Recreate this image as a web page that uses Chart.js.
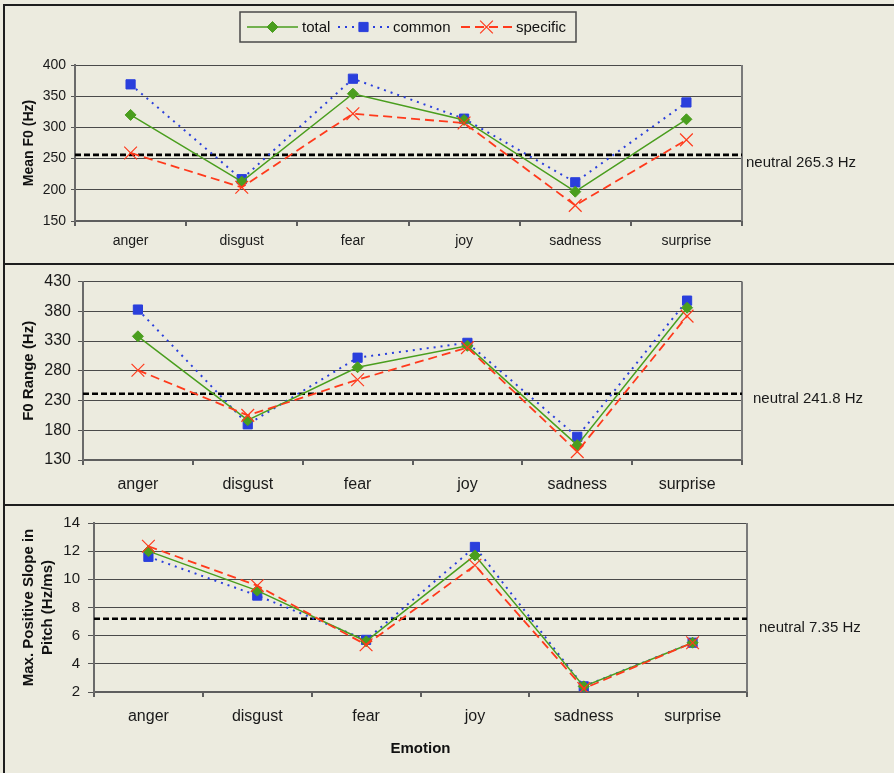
<!DOCTYPE html>
<html>
<head>
<meta charset="utf-8">
<script src="https://cdn.jsdelivr.net/npm/chart.js@4.4.1/dist/chart.umd.min.js"></script>
<style>
html, body { margin: 0; padding: 0; background: #ecebdf; }
#fig { position: relative; width: 894px; height: 773px; background: #ecebdf; overflow: hidden; }
.rule { position: absolute; background: #1e1e1e; }
canvas { position: absolute; }
</style>
</head>
<body>
<div id="fig">
  <div class="rule" style="left:3px;top:4px;width:891px;height:2px"></div>
  <div class="rule" style="left:3px;top:4px;width:2px;height:769px"></div>
  <div class="rule" style="left:3px;top:263px;width:891px;height:2px"></div>
  <div class="rule" style="left:3px;top:504px;width:891px;height:2px"></div>
  <canvas id="meanChart" style="left:5px;top:6px" width="889" height="257"></canvas>
  <canvas id="rangeChart" style="left:5px;top:265px" width="889" height="239"></canvas>
  <canvas id="slopeChart" style="left:5px;top:506px" width="889" height="267"></canvas>
</div>
<script>
const emotions = ['anger', 'disgust', 'fear', 'joy', 'sadness', 'surprise'];

// Mean F0 (Hz)
const meanTotal = [320, 213, 354, 312, 197, 313];
const meanCommon = [369, 217, 378, 314, 212, 340];
const meanSpecific = [259, 204, 322, 307, 175, 280];
const meanTicks = [150, 200, 250, 300, 350, 400];

// F0 Range (Hz)
const rangeTotal = [338, 197, 286, 322, 155, 386];
const rangeCommon = [383, 190, 302, 327, 169, 398];
const rangeSpecific = [281, 205, 265, 319, 144, 372];
const rangeTicks = [130, 180, 230, 280, 330, 380, 430];

// Max. positive slope in pitch (Hz/ms)
const slopeTotal = [12.0, 9.2, 5.6, 11.7, 2.4, 5.5];
const slopeCommon = [11.6, 8.85, 5.7, 12.3, 2.4, 5.5];
const slopeSpecific = [12.35, 9.55, 5.35, 11.0, 2.25, 5.5];
const slopeTicks = [2, 4, 6, 8, 10, 12, 14];

// neutral reference lines (drawn value, label)
const neutralValues = [256, 241.5, 7.2];
const neutralLabels = ['neutral 265.3 Hz', 'neutral 241.8 Hz', 'neutral 7.35 Hz'];

const FONT = '"Liberation Sans", Arial, sans-serif';
Chart.defaults.font.family = FONT;
Chart.defaults.color = '#1a1a1a';

const GREEN = '#4a9e1e';
const BLUE = '#2a3fdc';
const RED = '#ff3a1c';

function series(total, common, specific) {
  return [
    { label: 'total', data: total, borderColor: GREEN, backgroundColor: GREEN, borderWidth: 1.5,
      pointStyle: 'rectRot', pointRadius: 5.5, pointBorderWidth: 1, pointBorderColor: GREEN, order: 1 },
    { label: 'common', data: common, borderColor: BLUE, backgroundColor: BLUE, borderWidth: 2, borderDash: [2, 5],
      pointStyle: 'rect', pointRadius: 6.5, pointBorderWidth: 1, pointBorderColor: BLUE, order: 2 },
    { label: 'specific', data: specific, borderColor: RED, backgroundColor: RED, borderWidth: 1.8, borderDash: [9, 5],
      pointStyle: 'crossRot', pointRadius: 9, pointBorderWidth: 1.2, pointBorderColor: RED, order: 0 }
  ];
}

function drawMarker(ctx, style, r, x, y) {
  if (Chart.helpers && Chart.helpers.drawPoint) {
    Chart.helpers.drawPoint(ctx, { pointStyle: style, radius: r, borderWidth: 1, rotation: 0 }, x, y);
    return;
  }
  ctx.beginPath();
  ctx.arc(x, y, r, 0, Math.PI * 2);
  ctx.fill();
}

const neutralPlugin = {
  id: 'neutral',
  beforeDatasetsDraw(chart, args, o) {
    const { ctx, chartArea: a } = chart;
    const y = chart.scales.y.getPixelForValue(o.value);
    ctx.save();
    ctx.strokeStyle = '#7a7a7a';
    ctx.lineWidth = 2;
    ctx.beginPath();
    ctx.moveTo(a.right, a.top);
    ctx.lineTo(a.right, a.bottom);
    ctx.stroke();
    ctx.strokeStyle = '#000';
    ctx.lineWidth = 2.6;
    ctx.setLineDash([6, 3]);
    ctx.beginPath();
    ctx.moveTo(a.left, y);
    ctx.lineTo(a.right, y);
    ctx.stroke();
    ctx.restore();
  },
  afterDraw(chart, args, o) {
    const { ctx, chartArea: a } = chart;
    const y = chart.scales.y.getPixelForValue(o.value);
    ctx.save();
    ctx.font = '15px ' + FONT;
    ctx.fillStyle = '#1a1a1a';
    ctx.textBaseline = 'middle';
    ctx.fillText(o.label, a.right + o.dx, y + o.dy);
    ctx.restore();
  }
};

const legendPlugin = {
  id: 'refLegend',
  afterDraw(chart, args, o) {
    if (!o.show) return;
    const ctx = chart.ctx;
    const cy = o.y + o.h / 2;
    ctx.save();
    ctx.strokeStyle = '#4a4a4a';
    ctx.lineWidth = 1.5;
    ctx.strokeRect(o.x, o.y, o.w, o.h);
    chart.data.datasets.forEach((ds, i) => {
      const x0 = o.items[i];
      ctx.strokeStyle = ds.borderColor;
      ctx.lineWidth = ds.borderWidth;
      ctx.setLineDash(ds.borderDash || []);
      ctx.beginPath();
      ctx.moveTo(x0, cy);
      ctx.lineTo(x0 + 51, cy);
      ctx.stroke();
      ctx.setLineDash([]);
      ctx.fillStyle = ds.backgroundColor;
      ctx.lineWidth = ds.pointBorderWidth;
      drawMarker(ctx, ds.pointStyle, ds.pointRadius, x0 + 25.5, cy);
      ctx.fillStyle = '#111';
      ctx.font = '15px ' + FONT;
      ctx.textBaseline = 'middle';
      ctx.fillText(ds.label, x0 + 55, cy + 1);
    });
    ctx.restore();
  }
};

function makeChart(id, datasets, ticks, p) {
  return new Chart(document.getElementById(id), {
    type: 'line',
    data: { labels: emotions, datasets },
    plugins: [neutralPlugin, legendPlugin],
    options: {
      responsive: false,
      animation: false,
      layout: { padding: { top: p.top, right: p.right, bottom: 0, left: 0 } },
      elements: { line: { tension: 0, fill: false } },
      scales: {
        x: {
          type: 'category',
          offset: true,
          grid: { offset: true, drawOnChartArea: false, drawTicks: true, tickLength: 5, color: '#5e5e5e', lineWidth: 2 },
          border: { color: '#5e5e5e', width: 2 },
          ticks: { color: '#1a1a1a', font: { size: p.xSize }, padding: p.xPad, maxRotation: 0, autoSkip: false },
          title: p.xTitle ? { display: true, text: p.xTitle, color: '#111', font: { size: 15, weight: 'bold' }, padding: { top: 0, bottom: 15 } } : { display: false },
          afterFit: s => { s.height = p.xHeight; }
        },
        y: {
          min: ticks[0],
          max: ticks[ticks.length - 1],
          ticks: { stepSize: ticks[1] - ticks[0], color: '#1a1a1a', font: { size: p.ySize }, padding: p.yPad },
          grid: { color: '#4a4a4a', lineWidth: 1, tickLength: p.yTick, tickColor: '#555' },
          border: { color: '#6a6a6a', width: 2 },
          title: { display: true, text: p.yTitle, color: '#111',
            font: { size: p.yTitleSize, weight: 'bold', lineHeight: 1.27 }, padding: { top: p.yTitlePad, bottom: 0 } },
          afterFit: s => { s.width = p.yWidth; }
        }
      },
      plugins: {
        legend: { display: false },
        tooltip: { enabled: false },
        neutral: { value: p.neutral, label: p.neutralLabel, dx: p.ndx, dy: p.ndy },
        refLegend: p.legend || { show: false }
      }
    }
  });
}

makeChart('meanChart', series(meanTotal, meanCommon, meanSpecific), meanTicks, {
  top: 59, right: 152, xHeight: 42, yWidth: 70, xSize: 14, xPad: 7, ySize: 14, yPad: 5, yTick: 4,
  yTitle: 'Mean F0 (Hz)', yTitleSize: 14, yTitlePad: 15,
  neutral: neutralValues[0], neutralLabel: neutralLabels[0], ndx: 4, ndy: 8,
  legend: { show: true, x: 235, y: 6, w: 336, h: 30, items: [242, 333, 456] }
});

makeChart('rangeChart', series(rangeTotal, rangeCommon, rangeSpecific), rangeTicks, {
  top: 14, right: 152, xHeight: 44, yWidth: 78, xSize: 16, xPad: 10, ySize: 16, yPad: 7, yTick: 5,
  yTitle: 'F0 Range (Hz)', yTitleSize: 15, yTitlePad: 14,
  neutral: neutralValues[1], neutralLabel: neutralLabels[1], ndx: 11, ndy: 5
});

makeChart('slopeChart', series(slopeTotal, slopeCommon, slopeSpecific), slopeTicks, {
  top: 15, right: 147, xHeight: 81, yWidth: 89, xSize: 16, xPad: 10, ySize: 15, yPad: 8, yTick: 6,
  xTitle: 'Emotion',
  yTitle: ['Max. Positive Slope in', 'Pitch (Hz/ms)'], yTitleSize: 15, yTitlePad: 14,
  neutral: neutralValues[2], neutralLabel: neutralLabels[2], ndx: 12, ndy: 9
});
</script>
</body>
</html>
